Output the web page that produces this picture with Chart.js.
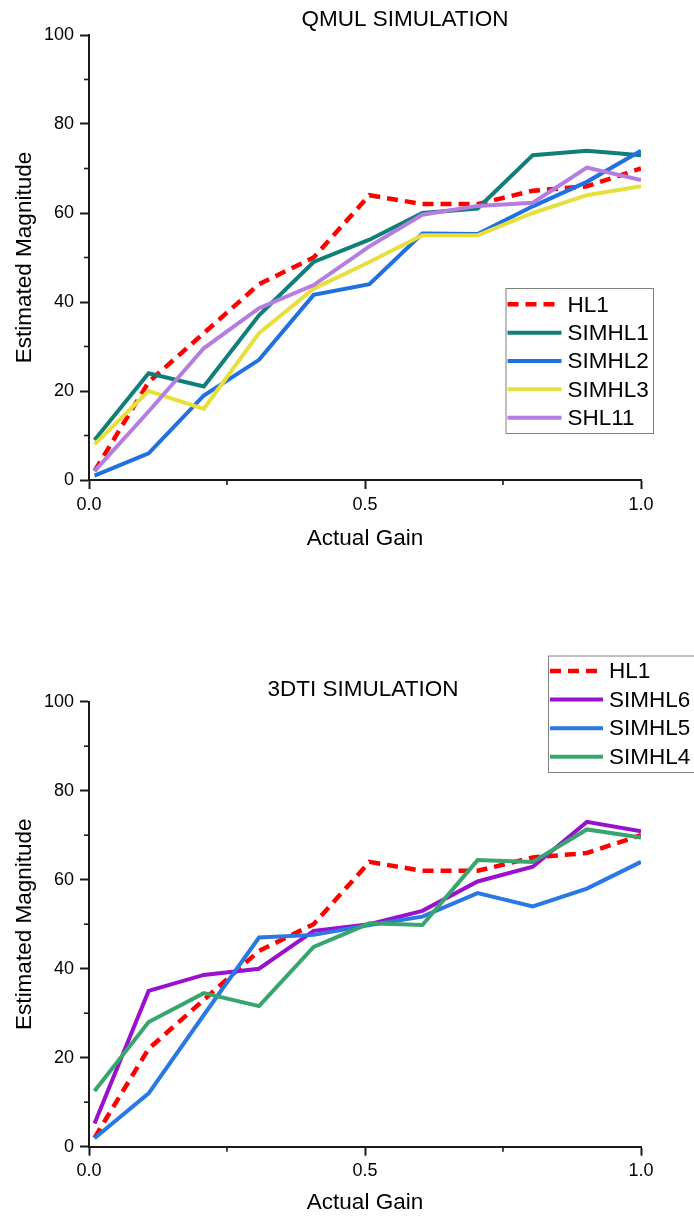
<!DOCTYPE html>
<html>
<head>
<meta charset="utf-8">
<script src="https://cdn.jsdelivr.net/npm/chart.js@4.4.0/dist/chart.umd.min.js"></script>
<style>
  html, body { margin: 0; padding: 0; background: #ffffff; }
  #wrap { position: relative; width: 694px; height: 1218px; }
  canvas { position: absolute; left: 0; display: block; }
</style>
</head>
<body>
<div id="wrap">
  <canvas id="qmul" width="694" height="560" style="top:0"></canvas>
  <canvas id="dti" width="694" height="658" style="top:560px"></canvas>
</div>
<script>
// Actual gain values at which each estimate was collected
const gain = [0.01, 0.108, 0.208, 0.308, 0.407, 0.508, 0.604, 0.704, 0.804, 0.902, 1.0];

// Reference listener (shared by both panels)
const hl1 = [2, 22, 33, 44, 50, 64, 62, 62, 65, 66, 70];

// QMUL simulation panel
const simhl1 = [9, 24, 21, 37, 49, 54, 60, 61, 73, 74, 73];
const simhl2 = [1, 6, 19, 27, 41.6, 44, 55.4, 55.3, 61.5, 67, 74];
const simhl3 = [8, 20, 16, 33, 43, 49, 55, 55, 60, 64, 66];
const shl11  = [2, 15.4, 29.6, 38.6, 43.8, 52.5, 59.6, 61.6, 62.3, 70.2, 67.4];

// 3DTI simulation panel
const simhl6 = [5.2, 35, 38.6, 40, 48.5, 50, 53, 59.6, 62.9, 73, 70.9];
const simhl5 = [1.9, 12, 29.6, 47, 47.6, 49.8, 51.7, 57, 54, 58, 64];
const simhl4 = [12.5, 28, 34.5, 31.6, 44.9, 50.2, 49.8, 64.4, 64, 71.3, 69.5];

// Axis ticks
const xMajor = [0, 0.5, 1.0];
const xMinor = [0.25, 0.75];
const yMinor = [10, 30, 50, 70, 90];

const FONT = "'Liberation Sans', Arial, sans-serif";
const INK = '#1a1a1a';

function pts(ys) { return gain.map((g, i) => ({ x: g, y: ys[i] })); }

function series(label, ys, color, dashed) {
  return {
    label, data: pts(ys),
    borderColor: color, backgroundColor: color,
    borderWidth: dashed ? 4.5 : 4,
    borderDash: dashed ? [11, 7] : [],
    borderCapStyle: 'butt', borderJoinStyle: 'miter',
    pointRadius: 0, tension: 0, fill: false
  };
}

// Minor ticks, panel title and inset legend
const decor = {
  id: 'decor',
  afterDraw(chart, args, o) {
    const ctx = chart.ctx;
    const xs = chart.scales.x, ys = chart.scales.y;
    ctx.save();
    ctx.strokeStyle = INK;
    ctx.lineWidth = 1.6;
    xMinor.forEach(v => {
      const px = xs.getPixelForValue(v);
      ctx.beginPath(); ctx.moveTo(px, ys.bottom); ctx.lineTo(px, ys.bottom + 5); ctx.stroke();
    });
    yMinor.forEach(v => {
      const py = ys.getPixelForValue(v);
      ctx.beginPath(); ctx.moveTo(xs.left, py); ctx.lineTo(xs.left - 5, py); ctx.stroke();
    });

    ctx.fillStyle = '#000';
    ctx.font = '22.5px ' + FONT;
    ctx.textAlign = 'center';
    ctx.textBaseline = 'middle';
    ctx.fillText(o.title, o.titleX, o.titleY);

    const L = o.legend;
    ctx.strokeStyle = '#808080';
    ctx.lineWidth = 1;
    ctx.strokeRect(L.x + 0.5, L.y + 0.5, L.w, L.h);
    ctx.textAlign = 'left';
    chart.data.datasets.forEach((ds, i) => {
      const yy = L.firstRow + i * L.rowGap;
      ctx.strokeStyle = ds.borderColor;
      ctx.lineWidth = ds.borderWidth;
      ctx.setLineDash(ds.borderDash);
      ctx.lineCap = 'butt';
      ctx.beginPath(); ctx.moveTo(L.x + 2, yy); ctx.lineTo(L.x + 2 + L.sample, yy); ctx.stroke();
      ctx.setLineDash([]);
      ctx.fillStyle = '#000';
      ctx.fillText(ds.label, L.x + L.sample + 8, yy + 1);
    });
    ctx.restore();
  }
};

function makeChart(id, datasets, cfg) {
  return new Chart(document.getElementById(id), {
    type: 'line',
    data: { datasets },
    plugins: [decor],
    options: {
      responsive: false,
      animation: false,
      events: [],
      layout: { padding: { left: 0, top: cfg.top, right: 53, bottom: 0 } },
      plugins: {
        legend: { display: false },
        title: { display: false },
        tooltip: { enabled: false },
        decor: cfg.decor
      },
      scales: {
        x: {
          type: 'linear', min: 0, max: 1,
          afterBuildTicks: s => { s.ticks = xMajor.map(v => ({ value: v })); },
          afterFit: s => { s.height = cfg.xHeight; },
          grid: { display: true, drawOnChartArea: false, drawTicks: true, tickLength: 9, tickWidth: 2, tickColor: INK },
          border: { display: true, color: INK, width: 2 },
          ticks: { color: '#000', padding: 5, maxRotation: 0, font: { family: FONT, size: 18 }, callback: v => Number(v).toFixed(1) },
          title: { display: true, text: 'Actual Gain', color: '#000', font: { family: FONT, size: 22.5 }, padding: { top: 0, bottom: cfg.xTitlePad } }
        },
        y: {
          type: 'linear', min: 0, max: 100,
          ticks: { stepSize: 20, color: '#000', padding: 6, font: { family: FONT, size: 18 } },
          afterFit: s => { s.width = 89; },
          grid: { display: true, drawOnChartArea: false, drawTicks: true, tickLength: 9, tickWidth: 2, tickColor: INK },
          border: { display: true, color: INK, width: 2 },
          title: { display: true, text: 'Estimated Magnitude', color: '#000', font: { family: FONT, size: 22.5 }, padding: { top: 11, bottom: 0 } }
        }
      }
    }
  });
}

makeChart('qmul', [
  series('HL1', hl1, '#ff0000', true),
  series('SIMHL1', simhl1, '#0f7f78', false),
  series('SIMHL2', simhl2, '#1f70e0', false),
  series('SIMHL3', simhl3, '#e6df3c', false),
  series('SHL11', shl11, '#b47ddf', false)
].map((d, i) => Object.assign(d, { order: -i })), {
  top: 35, xHeight: 80, xTitlePad: 7.5,
  decor: {
    title: 'QMUL SIMULATION', titleX: 405, titleY: 20,
    legend: { x: 505.5, y: 288, w: 147.5, h: 145, firstRow: 304.3, rowGap: 28.35, sample: 54 }
  }
});

makeChart('dti', [
  series('HL1', hl1, '#ff0000', true),
  series('SIMHL6', simhl6, '#9a10cf', false),
  series('SIMHL5', simhl5, '#2a78e4', false),
  series('SIMHL4', simhl4, '#38a66c', false)
].map((d, i) => Object.assign(d, { order: -i })), {
  top: 141.7, xHeight: 71.3, xTitlePad: 1.5,
  decor: {
    title: '3DTI SIMULATION', titleX: 363, titleY: 130,
    legend: { x: 548, y: 95.5, w: 170, h: 116.5, firstRow: 111, rowGap: 28.6, sample: 53 }
  }
});
</script>
</body>
</html>
